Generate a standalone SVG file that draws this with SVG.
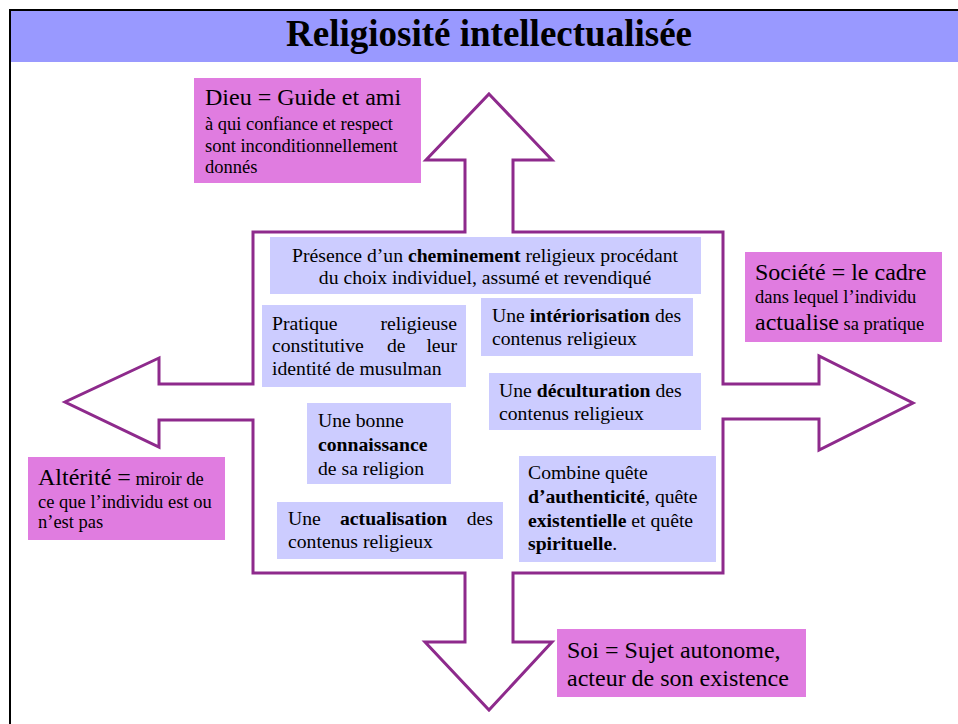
<svg xmlns="http://www.w3.org/2000/svg" width="958" height="724" viewBox="0 0 958 724">
<rect x="0" y="0" width="958" height="724" fill="#fff"/>
<rect x="10" y="10" width="948" height="52" fill="#9999FF"/>
<path d="M10,724 V10 H958" fill="none" stroke="#000" stroke-width="2"/>
<text x="489" y="46" text-anchor="middle" font-family="Liberation Serif" font-size="38" font-weight="bold" textLength="406" lengthAdjust="spacingAndGlyphs">Religiosité intellectualisée</text>

<g id="cross-arrow">
<polygon points="489,94 552,160 513,160 513,232 723,232 723,384 819,384 819,356 913,403 819,450 819,419 723,419 723,573 513,573 513,642 552,642 489,710 425,642 465,642 465,573 253,573 253,420 159,420 159,447 65,402 159,358 159,384 253,384 253,232 465,232 465,160 426,160" fill="#fff" stroke="#8E2A8C" stroke-width="3"/>
</g>

<g font-family="Liberation Serif" fill="#000">
<g id="dieu">
<rect fill="#E07CE0" x="194" y="78" width="227" height="105"/>
<text font-size="24" x="205" y="105">Dieu = Guide et ami</text>
<g font-size="18.5">
<text x="205" y="130">à qui confiance et respect</text>
<text x="205" y="152">sont inconditionnellement</text>
<text x="205" y="173">donnés</text>
</g>
</g>

<g id="societe">
<rect fill="#E07CE0" x="745" y="252" width="197" height="90"/>
<text font-size="24" x="755" y="280">Société = le cadre</text>
<text font-size="18.5" x="755" y="303">dans lequel l’individu</text>
<text x="755" y="330"><tspan font-size="24">actualise</tspan><tspan font-size="18.5"> sa pratique</tspan></text>
</g>

<g id="alterite">
<rect fill="#E07CE0" x="28" y="457" width="197" height="83"/>
<text x="38" y="485"><tspan font-size="24">Altérité =</tspan><tspan font-size="18.5"> miroir de</tspan></text>
<text font-size="18.5" x="38" y="508">ce que l’individu est ou</text>
<text font-size="18.5" x="38" y="528">n’est pas</text>
</g>

<g id="soi" font-size="24">
<rect fill="#E07CE0" x="557" y="629" width="249" height="68"/>
<text x="567" y="658">Soi = Sujet autonome,</text>
<text x="567" y="686">acteur de son existence</text>
</g>

<g font-size="19.7">
<g id="cheminement">
<rect fill="#CCCCFF" x="270" y="237" width="431" height="57"/>
<text x="485" y="262" text-anchor="middle">Présence d’un <tspan font-weight="bold">cheminement</tspan> religieux procédant</text>
<text x="485" y="284" text-anchor="middle">du choix individuel, assumé et revendiqué</text>
</g>

<g id="pratique">
<rect fill="#CCCCFF" x="262" y="305" width="204" height="82"/>
<text x="272" y="330">Pratique</text>
<text x="457" y="330" text-anchor="end">religieuse</text>
<text x="272" y="352">constitutive</text>
<text x="387" y="352">de</text>
<text x="457" y="352" text-anchor="end">leur</text>
<text x="272" y="375">identité de musulman</text>
</g>

<g id="interiorisation">
<rect fill="#CCCCFF" x="481" y="298" width="212" height="58"/>
<text x="492" y="322">Une <tspan font-weight="bold">intériorisation</tspan> des</text>
<text x="492" y="345">contenus religieux</text>
</g>

<g id="deculturation">
<rect fill="#CCCCFF" x="489" y="373" width="212" height="57"/>
<text x="499" y="397">Une <tspan font-weight="bold">déculturation</tspan> des</text>
<text x="499" y="420">contenus religieux</text>
</g>

<g id="connaissance">
<rect fill="#CCCCFF" x="307" y="403" width="144" height="81"/>
<text x="318" y="427">Une bonne</text>
<text x="318" y="451" font-weight="bold">connaissance</text>
<text x="318" y="475">de sa religion</text>
</g>

<g id="actualisation">
<rect fill="#CCCCFF" x="277" y="502" width="226" height="57"/>
<text x="288" y="525">Une</text>
<text x="340" y="525" font-weight="bold">actualisation</text>
<text x="493" y="525" text-anchor="end">des</text>
<text x="288" y="548">contenus religieux</text>
</g>

<g id="quetes">
<rect fill="#CCCCFF" x="519" y="456" width="197" height="106"/>
<text x="528" y="479">Combine quête</text>
<text x="528" y="503"><tspan font-weight="bold">d’authenticité</tspan>, quête</text>
<text x="528" y="527"><tspan font-weight="bold">existentielle</tspan> et quête</text>
<text x="528" y="550"><tspan font-weight="bold">spirituelle</tspan>.</text>
</g>
</g>
</g>
</svg>
